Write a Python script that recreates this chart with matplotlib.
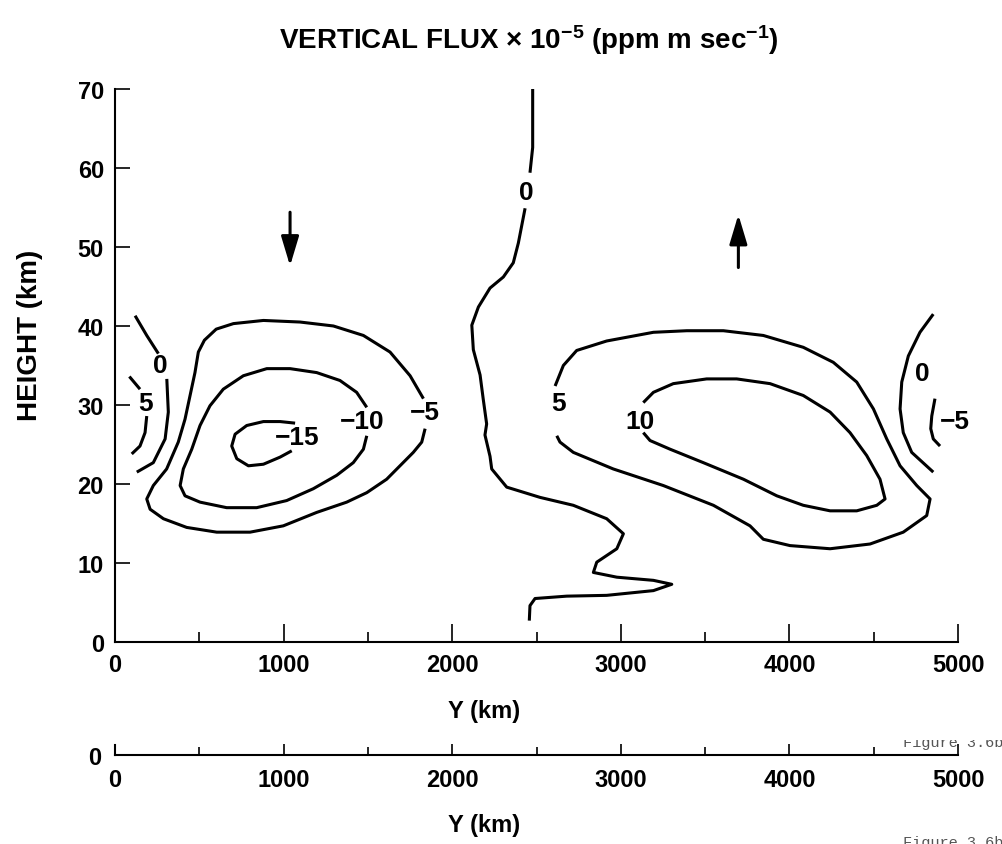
import matplotlib
matplotlib.use("Agg")
import matplotlib.pyplot as plt
from matplotlib.ticker import MultipleLocator
from matplotlib.transforms import Bbox

plt.rcParams["font.family"] = ["Liberation Sans", "DejaVu Sans"]
plt.rcParams["font.weight"] = "bold"
plt.rcParams["mathtext.fontset"] = "custom"
plt.rcParams["mathtext.rm"] = "Liberation Sans:bold"
plt.rcParams["mathtext.default"] = "rm"

# contour lines: Y (km), height (km)
neg15_y = [1068, 979, 880, 781, 712, 692, 722, 791, 880, 979, 1048]
neg15_h = [27.7, 27.9, 27.9, 27.4, 26.3, 24.8, 23.2, 22.3, 22.5, 23.4, 24.2]

neg10_y = [1493, 1433, 1334, 1196, 1038, 900, 761, 642, 563, 504, 455, 405, 386,
           415, 504, 662, 840, 1018, 1176, 1315, 1413, 1473, 1493]
neg10_h = [29.7, 31.6, 33.1, 34.1, 34.6, 34.6, 33.7, 32.0, 29.9, 27.4, 24.4, 21.9, 19.8,
           18.5, 17.7, 17.0, 17.0, 17.9, 19.4, 21.1, 22.7, 24.4, 26.1]

neg5_y = [1829, 1750, 1631, 1473, 1295, 1097, 880, 702, 600, 530, 494, 474, 445, 415, 375,
          306, 227, 188, 208, 287, 425, 603, 801, 998, 1196, 1374, 1493, 1611, 1690,
          1769, 1819, 1839]
neg5_h = [30.8, 33.7, 36.7, 38.8, 40.0, 40.5, 40.7, 40.3, 39.6, 38.2, 36.7, 34.1, 31.2, 28.2, 25.3,
          21.9, 19.8, 18.1, 16.8, 15.6, 14.5, 13.9, 13.9, 14.7, 16.4, 17.7, 18.9, 20.6, 22.3,
          24.0, 25.3, 27.0]

left0_top_y = [119, 188, 257]
left0_top_h = [41.3, 38.8, 36.5]
left0_bot_y = [307, 316, 297, 227, 129]
left0_bot_h = [33.3, 29.1, 25.7, 22.7, 21.5]

left5_top_y = [85, 148]
left5_top_h = [33.6, 32.0]
left5_bot_y = [188, 178, 148, 99]
left5_bot_h = [28.6, 26.5, 24.8, 23.8]

mid0_top_y = [2477, 2477, 2461]
mid0_top_h = [70.0, 62.6, 59.4]
mid0_bot_y = [2432, 2392, 2362, 2303, 2224, 2155, 2116, 2125, 2165, 2184, 2204, 2194,
              2224, 2234, 2323, 2521, 2718, 2916, 3015, 2976, 2857, 2837, 2976, 3193,
              3302, 3193, 2916, 2679, 2491, 2461, 2457]
mid0_bot_h = [54.9, 50.5, 48.0, 46.2, 44.8, 42.4, 40.1, 37.0, 33.8, 30.7, 27.6, 26.2,
              23.5, 21.9, 19.6, 18.3, 17.3, 15.6, 13.7, 11.8, 10.1, 8.8, 8.2, 7.8,
              7.3, 6.5, 5.9, 5.8, 5.5, 4.6, 2.7]

pos5_y = [2610, 2659, 2738, 2916, 3193, 3391, 3608, 3845, 4082, 4260, 4399, 4498, 4577,
          4656, 4755, 4834, 4814, 4675, 4478, 4241, 4003, 3845, 3766, 3549, 3252, 2955,
          2718, 2639, 2620]
pos5_h = [32.4, 35.0, 36.9, 38.1, 39.2, 39.4, 39.4, 38.8, 37.3, 35.4, 32.9, 29.5, 25.7,
          22.3, 19.8, 18.1, 16.0, 13.9, 12.4, 11.8, 12.2, 13.0, 14.7, 17.3, 19.8, 21.9,
          24.0, 25.3, 26.1]

pos10_y = [3133, 3193, 3311, 3509, 3687, 3885, 4082, 4241, 4359, 4458, 4537, 4567, 4518,
           4399, 4241, 4082, 3925, 3727, 3489, 3292, 3173, 3133]
pos10_h = [30.3, 31.6, 32.7, 33.3, 33.3, 32.7, 31.2, 29.1, 26.5, 23.6, 20.6, 18.1, 17.3,
           16.6, 16.6, 17.3, 18.5, 20.6, 22.7, 24.4, 25.5, 26.5]

right0_y = [4853, 4774, 4705, 4666, 4656, 4675, 4725, 4853]
right0_h = [41.5, 39.2, 36.2, 32.9, 29.5, 26.5, 24.0, 21.5]

right5_y = [4863, 4844, 4838, 4853, 4893]
right5_h = [30.8, 28.6, 27.0, 25.7, 24.8]

# contour labels
label_text = ["\u221215", "\u221210", "\u22125", "0", "5", "0", "5", "10", "0", "\u22125"]
label_y = [1079, 1463, 1839, 267, 178, 2442, 2629, 3114, 4790, 4982]
label_h = [25.9, 28.0, 29.1, 35.0, 30.3, 56.9, 30.3, 28.0, 34.1, 28.0]

# flux direction arrows
arrow_y = [1038, 3697]
arrow_from = [54.4, 47.4]
arrow_to = [47.6, 54.1]

fig = plt.figure(figsize=(10.03, 8.45), dpi=100)
ax = fig.add_axes([0.1147, 0.2391, 0.8405, 0.6544])

lines = [
    (neg15_y, neg15_h), (neg10_y, neg10_h), (neg5_y, neg5_h),
    (left0_top_y, left0_top_h), (left0_bot_y, left0_bot_h),
    (left5_top_y, left5_top_h), (left5_bot_y, left5_bot_h),
    (mid0_top_y, mid0_top_h), (mid0_bot_y, mid0_bot_h),
    (pos5_y, pos5_h), (pos10_y, pos10_h),
    (right0_y, right0_h), (right5_y, right5_h),
]
for yy, hh in lines:
    ax.plot(yy, hh, color="black", lw=2.2, solid_joinstyle="round", solid_capstyle="butt")

for t, yy, hh in zip(label_text, label_y, label_h):
    ax.text(yy, hh, t, ha="center", va="center", fontsize=19)

for yy, h0, h1 in zip(arrow_y, arrow_from, arrow_to):
    ax.annotate("", xy=(yy, h1), xytext=(yy, h0),
                arrowprops=dict(arrowstyle="-|>,head_length=0.9,head_width=0.27",
                                lw=2.2, color="black", mutation_scale=20,
                                shrinkA=0, shrinkB=0))

ax.set_xlim(0, 5000)
ax.set_ylim(0, 70)
ax.spines[["top", "right"]].set_visible(False)
for s in ["left", "bottom"]:
    ax.spines[s].set_linewidth(1.5)
ax.xaxis.set_major_locator(MultipleLocator(1000))
ax.xaxis.set_minor_locator(MultipleLocator(500))
ax.yaxis.set_major_locator(MultipleLocator(10))
ax.tick_params(axis="x", which="major", direction="in", length=13, width=1.2, labelsize=17, pad=8)
ax.tick_params(axis="x", which="minor", direction="in", length=7, width=1.2)
ax.tick_params(axis="y", direction="in", length=11, width=1.2, labelsize=17, pad=8)

# second, empty axis strip below
ax2 = fig.add_axes([0.1147, 0.1053, 0.8405, 0.012])
ax2.set_xlim(0, 5000)
ax2.set_ylim(0, 1)
ax2.spines[["top", "right"]].set_visible(False)
for s in ["left", "bottom"]:
    ax2.spines[s].set_linewidth(1.5)
ax2.xaxis.set_major_locator(MultipleLocator(1000))
ax2.xaxis.set_minor_locator(MultipleLocator(500))
ax2.set_yticks([0])
ax2.tick_params(axis="x", which="major", direction="in", length=8, width=1.2, labelsize=17, pad=9)
ax2.tick_params(axis="x", which="minor", direction="in", length=6, width=1.2)
ax2.tick_params(axis="y", length=0, labelsize=17, pad=10)

fig.text(0.4826, 1 - 712 / 845, "Y (km)", ha="center", va="center", fontsize=17)
fig.text(0.4826, 1 - 826 / 845, "Y (km)", ha="center", va="center", fontsize=17)
fig.text(0.527, 1 - 40 / 845, "VERTICAL FLUX \u00d7 10$^{-5}$ (ppm m sec$^{-1}$)",
         ha="center", va="center", fontsize=20)
fig.text(0.030, 1 - 335 / 845, "HEIGHT (km)", rotation=90, ha="center", va="center", fontsize=20)

# scanned caption fragments at the right edge, partly cut off
cap = fig.text(903 / 1003, 1 - 747 / 845, "Figure 3.6b", fontsize=11,
               family="Liberation Mono", weight="normal", color="#555555", va="baseline")
cap.set_clip_box(Bbox.from_extents(880, 0, 1003, 845 - 741))
cap.set_clip_on(True)
fig.text(903 / 1003, 1 - 836 / 845, "Figure 3.6b", fontsize=11,
         family="Liberation Mono", weight="normal", color="#555555", va="top")

fig.savefig("out.png", dpi=100)
